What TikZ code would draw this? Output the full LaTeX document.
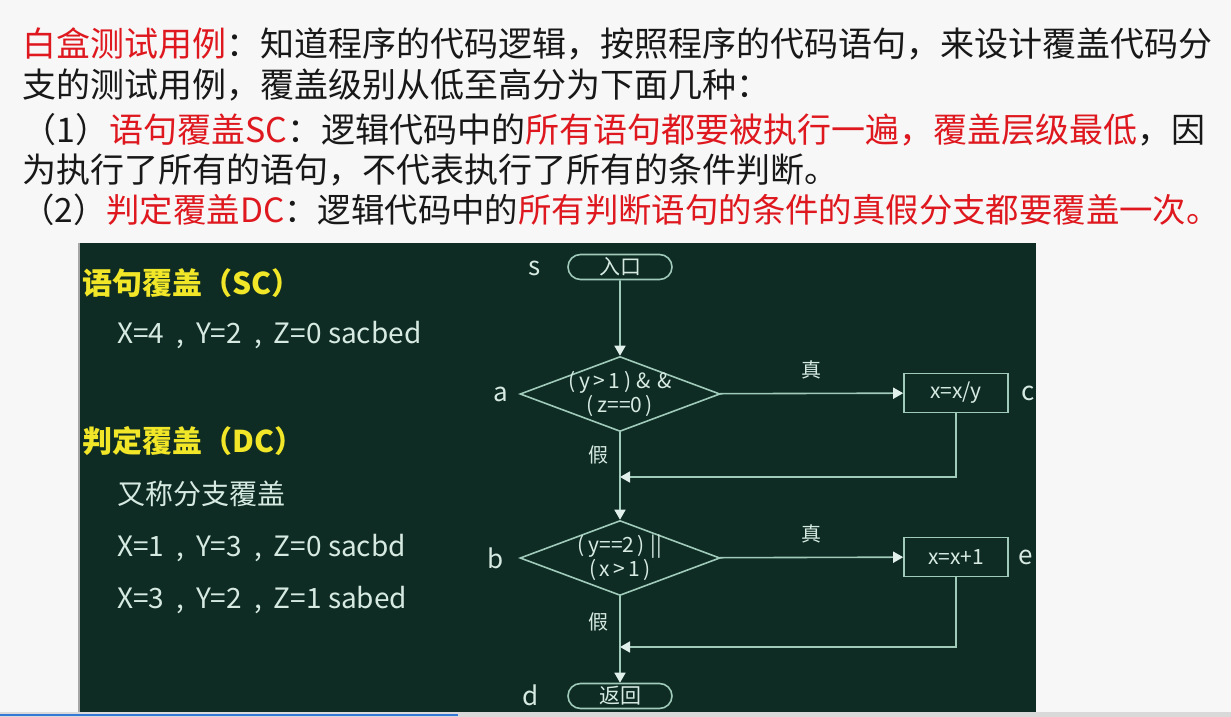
\documentclass[tikz,border=0pt]{standalone}
\usepackage{fontspec}
\setmainfont{Noto Sans CJK SC}
\usetikzlibrary{shapes.geometric,shapes.misc,arrows.meta}
\definecolor{txtred}{RGB}{222,24,30}
\definecolor{txtblack}{RGB}{24,24,24}
\definecolor{board}{RGB}{14,44,36}
\definecolor{chalk}{RGB}{214,234,226}
\definecolor{wire}{RGB}{160,202,186}
\definecolor{tipc}{RGB}{225,240,235}
\definecolor{hilite}{RGB}{242,230,40}
\definecolor{barblue}{RGB}{52,120,214}
\newcommand{\fs}[1]{\fontsize{#1}{#1}\selectfont}
% spaced comma between the test inputs
\newcommand{\sep}{\hspace{12pt},\hspace{12pt}}
\begin{document}
\begin{tikzpicture}[x=1pt,y=-1pt,
  intro/.style={anchor=base west,inner sep=0,text=txtblack,font=\fs{34}},
  heading/.style={anchor=base west,inner sep=0,text=hilite,font=\fs{30}\bfseries},
  caseline/.style={anchor=base west,inner sep=0,text=chalk,font=\fs{28}},
  term/.style={rounded rectangle,draw=wire,line width=1.6pt,minimum width=104pt,minimum height=25pt,inner sep=0,text=chalk,font=\fs{21}},
  decision/.style={diamond,draw=wire,line width=1.6pt,minimum width=200pt,minimum height=75pt,inner sep=0,aspect=2.67},
  cond/.style={text=chalk,font=\fs{21},align=center,inner sep=0},
  stmt/.style={rectangle,draw=wire,line width=1.6pt,minimum width=104pt,minimum height=39pt,inner sep=0,text=chalk,font=\fs{21}},
  tag/.style={inner sep=0,text=chalk,font=\fs{26}},
  branch/.style={inner sep=0,text=chalk,font=\fs{20}},
  flow/.style={draw=wire,line width=1.6pt},
  arr/.style={flow,-{Triangle[length=10pt,width=11pt,fill=tipc,color=tipc]}}
]
\useasboundingbox (0,0) rectangle (1231,717);
\fill[white!97!black] (0,0) rectangle (1231,717);

% introduction text
\node[intro] (l1) at (22,57) {\textcolor{txtred}{白盒测试用例}：知道程序的代码逻辑，按照程序的代码语句，来设计覆盖代码分};
\node[intro] (l2) at (22,97) {支的测试用例，覆盖级别从低至高分为下面几种：};
\node[intro] (l3) at (22,142) {（1）\textcolor{txtred}{语句覆盖SC}：逻辑代码中的\textcolor{txtred}{所有语句都要被执行一遍，覆盖层级最低}，因};
\node[intro] (l4) at (22,182) {为执行了所有的语句，不代表执行了所有的条件判断。};
\node[intro,font=\fs{33.4}] (l5) at (21,222) {（2）\textcolor{txtred}{判定覆盖DC}：逻辑代码中的\textcolor{txtred}{所有判断语句的条件的真假分支都要覆盖一次。}};

% blackboard
\fill[board] (78,243) rectangle (1036,712);
\draw[gray!70,line width=2pt] (79,243) -- (79,712);
\fill[gray!30] (0,712) rectangle (1231,717);
\draw[barblue,line width=2pt] (0,715) -- (458,715);

% test cases
\node[heading] (h1) at (82,294) {语句覆盖（SC）};
\node[caseline] (c1) at (117,343) {X=4\sep Y=2\sep Z=0 sacbed};
\node[heading] (h2) at (82,452) {判定覆盖（DC）};
\node[caseline] (c2) at (117,504) {又称分支覆盖};
\node[caseline] (c3) at (117,556) {X=1\sep Y=3\sep Z=0 sacbd};
\node[caseline] (c4) at (117,608) {X=3\sep Y=2\sep Z=1 sabed};

% flow chart
\node[term] (s) at (620,267) {入口};
\node[decision,label={[cond]center:(\,y\,>\,1\,)\;\&\;\&\\(\,z==0\,)}] (a) at (620,394) {};
\node[stmt] (c) at (956,393) {x=x/y};
\node[decision,label={[cond]center:(\,y==2\,)\;||\\(\,x\,>\,1\,)}] (b) at (620,558) {};
\node[stmt] (e) at (956,557) {x=x+1};
\node[term] (d) at (620,696) {返回};
\coordinate (m1) at (620,477);
\coordinate (m2) at (620,647);

\node[tag] (ts) at (535,268) {s};
\node[tag] (ta) at (501,394) {a};
\node[tag] (tc) at (1028,393) {c};
\node[tag] (tb) at (496,558) {b};
\node[tag] (te) at (1026,557) {e};
\node[tag] (td) at (531,695) {d};

\draw[arr] (s) -- (a);
\draw[arr] (a) -- node[branch,above=14pt] (t1) {真} (c);
\draw[flow] (a) -- (m1);
\draw[arr] (c) |- (m1);
\draw[arr] (m1) -- (b);
\node[branch] (f1) at (598,455) {假};
\draw[arr] (b) -- node[branch,above=14pt] (t2) {真} (e);
\draw[flow] (b) -- (m2);
\draw[arr] (e) |- (m2);
\draw[arr] (m2) -- (d);
\node[branch] (f2) at (598,622) {假};
\end{tikzpicture}
\end{document}
